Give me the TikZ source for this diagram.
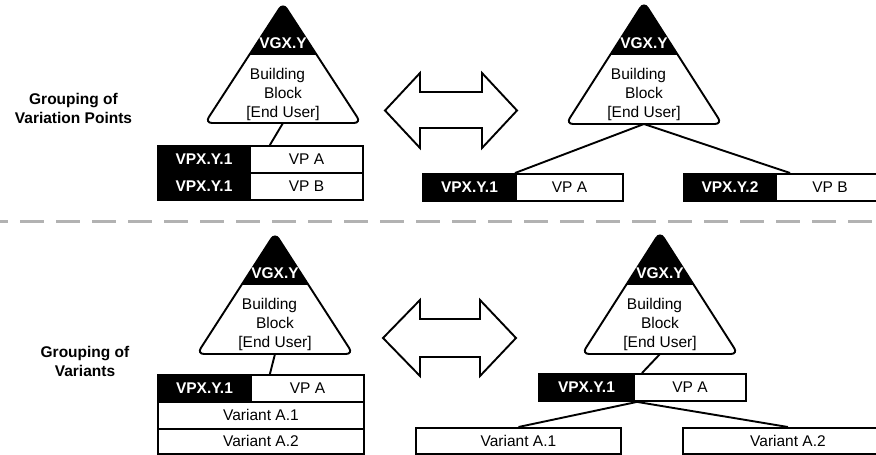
\documentclass[tikz,border=0pt]{standalone}
\usepackage{fontspec}
\setmainfont{Liberation Sans}
\usetikzlibrary{calc}

% Building-block triangle: name, centre x, apex y, base y, half base width, bottom of the black cap
\newcommand\bbtriangle[6]{%
  \begin{scope}
    \clip[rounded corners=7pt] (#2,#3) -- (#2-#5,#4) -- (#2+#5,#4) -- cycle;
    \fill[black] (#2-#5,#3-5) rectangle (#2+#5,#6);
  \end{scope}
  \draw[tri] (#2,#3) -- (#2-#5,#4) -- (#2+#5,#4) -- cycle;
  \coordinate (#1) at (#2,#4);
  \node[capid] (#1-id) at (#2,#6-12) {VGX.Y};
  \node[bbtext] (#1-txt) at (#2,#6+39) {Building\hspace*{11pt}\\Block\\{[End User]}};
}

\tikzset{
  tri/.style={draw=black, line width=1.9pt, rounded corners=7pt},
  capid/.style={text=white, font=\fontsize{15.5}{19}\selectfont\bfseries, inner sep=0pt},
  bbtext/.style={align=center, font=\fontsize{15.5}{19}\selectfont, inner sep=0pt},
  idbox/.style={draw=black, fill=black, text=white, line width=1.9pt, inner sep=0pt,
    anchor=north west, minimum height=27pt, font=\fontsize{15.5}{19}\selectfont\bfseries},
  namebox/.style={draw=black, fill=white, line width=1.9pt, inner sep=0pt,
    anchor=north west, minimum height=27pt, font=\fontsize{15.5}{19}\selectfont},
  link/.style={draw=black, line width=1.9pt},
  swap/.style={draw=black, fill=white, line width=1.9pt, line join=miter},
  grouplabel/.style={align=center, font=\fontsize{15.5}{19}\selectfont\bfseries, inner sep=0pt},
  separator/.style={draw=black!30, line width=3pt, dash pattern=on 24pt off 12pt, dash phase=-20pt}
}

\begin{document}
\begin{tikzpicture}[x=1pt, y=-1pt]
\useasboundingbox (0,0) rectangle (876,455);
\clip (0,0) rectangle (876,455);

% ---------- row labels ----------
\node[grouplabel] (lab1) at (73.5,108) {Grouping of\\Variation Points};
\node[grouplabel] (lab2) at (85,361) {Grouping of\\Variants};

% ---------- separator ----------
\draw[separator] (0,221) -- (876,221);

% ---------- upper left: variation points kept in one block ----------
\bbtriangle{t1}{283}{3}{123}{78}{55}
\node[idbox, minimum width=92pt]  (vp1k) at (157,145)   {VPX.Y.1};
\node[namebox, minimum width=113pt] (vp1w) at (249,145) {VP A};
\node[idbox, minimum width=92pt]  (vp2k) at (157,172)   {VPX.Y.1};
\node[namebox, minimum width=113pt] (vp2w) at (249,172) {VP B};
\draw[link] (t1) -- ([xshift=19pt]vp1k.north east);

% ---------- upper right: variation points as separate children ----------
\bbtriangle{t2}{644}{2}{124}{78}{55}
\node[idbox, minimum width=93pt]  (vp3k) at (422,173)   {VPX.Y.1};
\node[namebox, minimum width=107pt] (vp3w) at (515,173) {VP A};
\node[idbox, minimum width=92pt]  (vp4k) at (683,173)   {VPX.Y.2};
\node[namebox, minimum width=108pt] (vp4w) at (775,173) {VP B};
\draw[link] (t2) -- (vp3w.north west);
\draw[link] (t2) -- ([xshift=15pt]vp4w.north west);

% ---------- lower left: variants kept in one block ----------
\bbtriangle{t3}{275}{233}{354}{78}{285}
\node[idbox, minimum width=93pt]  (vp5k) at (157,374)   {VPX.Y.1};
\node[namebox, minimum width=113pt] (vp5w) at (250,374) {VP A};
\node[namebox, minimum width=206pt] (va1) at (157,401)  {Variant A.1};
\node[namebox, minimum width=206pt, minimum height=25pt] (va2) at (157,428) {Variant A.2};
\draw[link] (t3) -- ([xshift=18pt]vp5k.north east);

% ---------- lower right: variants as separate children ----------
\bbtriangle{t4}{660}{232}{354}{78}{285}
\node[idbox, minimum width=95pt]  (vp6k) at (538,373)   {VPX.Y.1};
\node[namebox, minimum width=112pt] (vp6w) at (633,373) {VP A};
\node[namebox, minimum width=205pt, minimum height=26pt] (vb1) at (415,427) {Variant A.1};
\node[namebox, minimum width=210pt, minimum height=26pt] (vb2) at (682,427) {Variant A.2};
\draw[link] (t4) -- ([xshift=9pt]vp6w.north west);
\draw[link] ([xshift=4pt]vp6w.south west) -- (vb1.north);
\draw[link] ([xshift=4pt]vp6w.south west) -- (vb2.north);

% ---------- double arrows between the alternatives ----------
\draw[swap] (385,110.5) -- (420,73) -- (420,92) -- (482,92) -- (482,73) -- (517,110.5)
  -- (482,148) -- (482,128) -- (420,128) -- (420,148) -- cycle;
\draw[swap] (383,338) -- (420,300) -- (420,319) -- (480,319) -- (480,300) -- (516,338)
  -- (480,376) -- (480,357) -- (420,357) -- (420,376) -- cycle;
\end{tikzpicture}
\end{document}
